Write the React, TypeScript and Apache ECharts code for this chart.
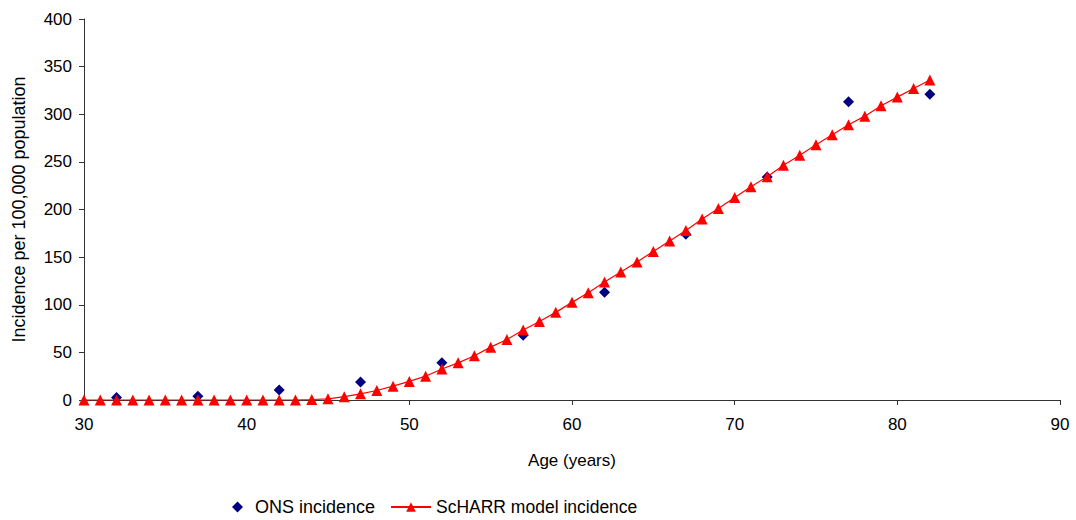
import React, { useEffect, useRef } from "react";
import * as echarts from "echarts";

const onsAges = [32, 37, 42, 47, 52, 57, 62, 67, 72, 77, 82];
const onsValues = [2.5, 4, 10.5, 19, 39, 68, 113, 174, 234, 313, 321];

const modelAges = [30, 31, 32, 33, 34, 35, 36, 37, 38, 39, 40, 41, 42, 43, 44, 45, 46, 47, 48, 49, 50, 51, 52, 53, 54, 55, 56, 57, 58, 59, 60, 61, 62, 63, 64, 65, 66, 67, 68, 69, 70, 71, 72, 73, 74, 75, 76, 77, 78, 79, 80, 81, 82];
const modelValues = [0, 0, 0, 0, 0, 0, 0, 0, 0, 0, 0, 0, 0, 0, 0.5, 1.2, 3.5, 6.5, 10, 14.5, 19.5, 25, 32.5, 39, 46.5, 55.5, 63.5, 73.5, 82.5, 92, 102.5, 112.5, 124, 134.5, 145, 156, 167, 178, 190, 201, 212.5, 224, 234.5, 246.5, 257, 268, 278.5, 289, 298, 309, 318, 327, 336];

const xTicks = { min: 30, max: 90, interval: 10 };
const yTicks = { min: 0, max: 400, interval: 50 };

export default function App() {
  const ref = useRef<HTMLDivElement>(null);
  useEffect(() => {
    if (!ref.current) return;
    const chart = echarts.init(ref.current, undefined, { renderer: "svg" });
    const font = "Liberation Sans, Arial, sans-serif";
    chart.setOption({
      animation: false,
      backgroundColor: "#fff",
      textStyle: { fontFamily: font },
      grid: { left: 84, right: 16, top: 19, bottom: 120, containLabel: false },
      xAxis: {
        type: "value",
        min: xTicks.min,
        max: xTicks.max,
        interval: xTicks.interval,
        name: "Age (years)",
        nameLocation: "middle",
        nameGap: 52,
        nameTextStyle: { color: "#000", fontSize: 17, fontFamily: font },
        axisLine: { show: true, lineStyle: { color: "#333", width: 1 } },
        axisTick: { show: true, inside: false, length: 5, lineStyle: { color: "#333" } },
        axisLabel: { color: "#000", fontSize: 17, margin: 16, fontFamily: font },
        splitLine: { show: false },
      },
      yAxis: {
        type: "value",
        min: yTicks.min,
        max: yTicks.max,
        interval: yTicks.interval,
        name: "Incidence per 100,000 population",
        nameLocation: "middle",
        nameGap: 56,
        nameTextStyle: { color: "#000", fontSize: 18, fontFamily: font },
        axisLine: { show: true, lineStyle: { color: "#333", width: 1 } },
        axisTick: { show: true, inside: false, length: 5, lineStyle: { color: "#333" } },
        axisLabel: { color: "#000", fontSize: 17, margin: 12, fontFamily: font },
        splitLine: { show: false },
      },
      legend: [
        {
          left: 232,
          top: 498,
          padding: 0,
          itemWidth: 11,
          itemHeight: 11,
          textStyle: { color: "#000", fontSize: 18, fontFamily: font, padding: [0, 0, 0, 7] },
          data: [{ name: "ONS incidence", icon: "diamond", itemStyle: { color: "#000080" } }],
        },
        {
          left: 390,
          top: 498,
          padding: 0,
          itemWidth: 40,
          itemHeight: 12,
          textStyle: { color: "#000", fontSize: 17.5, fontFamily: font },
          data: [{ name: "ScHARR model incidence" }],
        },
      ],
      series: [
        {
          name: "ScHARR model incidence",
          type: "line",
          data: modelAges.map((a, i) => [a, modelValues[i]]),
          symbol: "triangle",
          symbolSize: 11,
          lineStyle: { color: "#ff0000", width: 1.2 },
          itemStyle: { color: "#ff0000", opacity: 1 },
          z: 2,
        },
        {
          name: "ONS incidence",
          type: "scatter",
          data: onsAges.map((a, i) => [a, onsValues[i]]),
          symbol: "diamond",
          symbolSize: 11,
          itemStyle: { color: "#000080", opacity: 1 },
          z: 1,
        },
      ],
    });
    return () => chart.dispose();
  }, []);
  return <div ref={ref} style={{ width: 1076, height: 520, position: "absolute", left: 0, top: 0 }} />;
}
